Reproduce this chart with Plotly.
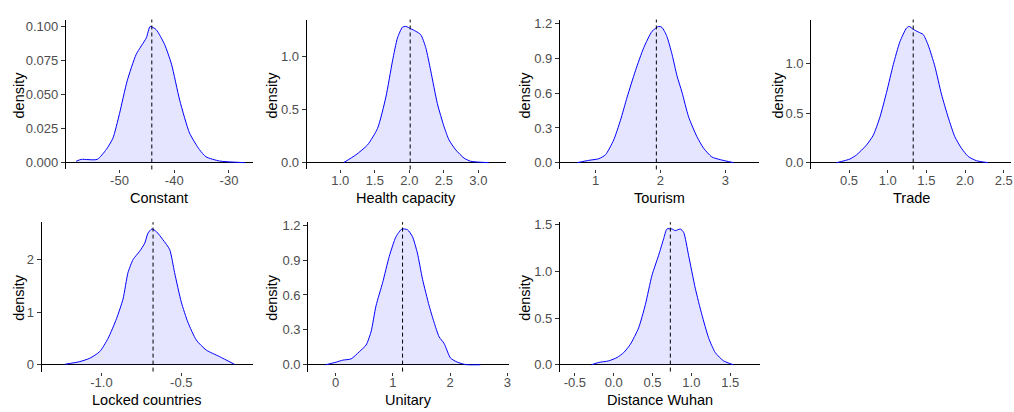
import plotly.graph_objects as go

# ---------------- data ----------------
labels = ["Constant", "Health capacity", "Tourism", "Trade",
          "Locked countries", "Unitary", "Distance Wuhan"]

constant_x = [-57.92, -57.0, -54.08, -52.43, -51.2, -50.0, -48.6, -46.95, -45.1, -44.4,
              -43.3, -41.77, -40.5, -39.0, -37.2, -35.4, -34.2, -31.7, -27.1]
constant_y = [0.001, 0.0024, 0.0024, 0.0096, 0.018, 0.036, 0.060, 0.0795, 0.0916, 0.100,
              0.0976, 0.0868, 0.0723, 0.0458, 0.0217, 0.0096, 0.0043, 0.0012, 0.0]

health_x = [1.048, 1.227, 1.395, 1.539, 1.66, 1.756, 1.828, 1.90, 1.949, 2.02, 2.094,
            2.166, 2.238, 2.31, 2.406, 2.503, 2.575, 2.672, 2.792, 2.889, 3.153]
health_y = [0.0, 0.074, 0.167, 0.321, 0.615, 0.954, 1.17, 1.27, 1.278, 1.256, 1.232,
            1.20, 1.078, 0.861, 0.553, 0.337, 0.213, 0.12, 0.043, 0.013, 0.0]

tourism_x = [0.717, 0.897, 1.05, 1.154, 1.28, 1.385, 1.487, 1.615, 1.743, 1.871, 1.974,
             2.025, 2.10, 2.18, 2.256, 2.333, 2.435, 2.563, 2.666, 2.794, 2.923, 3.128]
tourism_y = [0.0, 0.02, 0.034, 0.068, 0.196, 0.367, 0.566, 0.794, 0.993, 1.135, 1.178,
             1.169, 1.092, 0.936, 0.751, 0.609, 0.396, 0.225, 0.125, 0.049, 0.026, 0.0]

trade_x = [0.34, 0.513, 0.598, 0.727, 0.814, 0.90, 0.985, 1.072, 1.158, 1.243, 1.278,
           1.33, 1.394, 1.459, 1.523, 1.61, 1.695, 1.781, 1.868, 1.953, 2.04, 2.147, 2.297]
trade_y = [0.0, 0.037, 0.079, 0.179, 0.278, 0.461, 0.709, 0.99, 1.222, 1.36, 1.377,
           1.348, 1.321, 1.295, 1.189, 0.973, 0.692, 0.461, 0.262, 0.146, 0.063, 0.02, 0.0]

locked_x = [-1.229, -1.136, -1.073, -1.011, -0.959, -0.906, -0.865, -0.834, -0.802, -0.761,
            -0.729, -0.709, -0.684, -0.656, -0.615, -0.573, -0.542, -0.5, -0.459, -0.406,
            -0.344, -0.261, -0.167]
locked_y = [0.01, 0.06, 0.125, 0.25, 0.5, 0.875, 1.25, 1.75, 2.0, 2.157,
            2.31, 2.50, 2.58, 2.53, 2.375, 2.19, 1.75, 1.19, 0.81, 0.47,
            0.28, 0.156, 0.01]

unitary_x = [-0.174, 0.012, 0.127, 0.273, 0.417, 0.534, 0.62, 0.708, 0.823, 0.939, 1.056,
             1.16, 1.258, 1.345, 1.43, 1.52, 1.635, 1.72, 1.81, 1.896, 2.01, 2.127, 2.27, 2.53]
unitary_y = [0.0, 0.023, 0.04, 0.051, 0.113, 0.17, 0.282, 0.508, 0.706, 0.932, 1.10,
             1.167, 1.16, 1.10, 0.96, 0.735, 0.508, 0.367, 0.24, 0.184, 0.057, 0.023, 0.002, 0.0]

wuhan_x = [-0.287, -0.193, -0.064, 0.043, 0.129, 0.214, 0.321, 0.407, 0.493, 0.578, 0.643,
           0.685, 0.75, 0.793, 0.857, 0.90, 0.964, 1.05, 1.135, 1.221, 1.307, 1.414, 1.542]
wuhan_y = [0.0, 0.025, 0.042, 0.078, 0.131, 0.219, 0.396, 0.643, 0.96, 1.173, 1.35,
           1.455, 1.455, 1.437, 1.455, 1.42, 1.173, 0.82, 0.537, 0.29, 0.131, 0.042, 0.0]

estimates = [-44.1, 2.012, 1.938, 1.33, -0.677, 1.171, 0.729]

x_tickvals = [[-50, -40, -30], [1.0, 1.5, 2.0, 2.5, 3.0], [1, 2, 3],
              [0.5, 1.0, 1.5, 2.0, 2.5], [-1.0, -0.5], [0, 1, 2, 3],
              [-0.5, 0.0, 0.5, 1.0, 1.5]]
x_ticktext = [["-50", "-40", "-30"], ["1.0", "1.5", "2.0", "2.5", "3.0"], ["1", "2", "3"],
              ["0.5", "1.0", "1.5", "2.0", "2.5"], ["-1.0", "-0.5"], ["0", "1", "2", "3"],
              ["-0.5", "0.0", "0.5", "1.0", "1.5"]]
y_tickvals = [[0, 0.025, 0.05, 0.075, 0.1], [0, 0.5, 1.0], [0, 0.3, 0.6, 0.9, 1.2],
              [0, 0.5, 1.0], [0, 1, 2], [0, 0.3, 0.6, 0.9, 1.2], [0, 0.5, 1.0, 1.5]]
y_ticktext = [["0.000", "0.025", "0.050", "0.075", "0.100"], ["0.0", "0.5", "1.0"],
              ["0.0", "0.3", "0.6", "0.9", "1.2"], ["0.0", "0.5", "1.0"], ["0", "1", "2"],
              ["0.0", "0.3", "0.6", "0.9", "1.2"], ["0.0", "0.5", "1.0", "1.5"]]

series_x = [constant_x, health_x, tourism_x, trade_x, locked_x, unitary_x, wuhan_x]
series_y = [constant_y, health_y, tourism_y, trade_y, locked_y, unitary_y, wuhan_y]

# ---------------- layout (pixel geometry) ----------------
W, H = 1014, 412
panel_px = [  # left, right, top, bottom in pixels
    (66, 253, 14.8, 166.9), (307.3, 507, 14.8, 166.9), (561, 761, 14.8, 166.9),
    (812.7, 1013, 14.8, 166.9),
    (41.7, 253, 220.4, 372), (308.7, 510, 220.4, 372), (561, 761.7, 220.4, 372)]
x_ranges = [(-59.8, -25.7), (0.513, 3.40), (0.451, 3.528), (0.01, 2.594),
            (-1.375, -0.054), (-0.479, 3.03), (-0.693, 1.886)]
ytitle_x = [19, 272.5, 526, 779.5, 19, 272.5, 526]
xtitle_y = [195.5, 401]

FONT = "Liberation Sans, Arial, sans-serif"
fig = go.Figure()
layout = dict(width=W, height=H, margin=dict(l=0, r=0, t=0, b=0),
              paper_bgcolor="white", plot_bgcolor="white", showlegend=False,
              font=dict(family=FONT, color="black"))
shapes, annotations = [], []

for i in range(7):
    n = "" if i == 0 else str(i + 1)
    l, r, t, b = panel_px[i]
    ymax = max(series_y[i])
    fig.add_trace(go.Scatter(x=series_x[i], y=series_y[i], mode="lines",
                             line=dict(color="blue", width=1, shape="spline", smoothing=0.6),
                             fill="tozeroy", fillcolor="rgba(0,0,255,0.1)",
                             xaxis="x" + n, yaxis="y" + n, hoverinfo="skip"))
    layout["xaxis" + n] = dict(domain=[l / W, r / W], range=list(x_ranges[i]),
                               anchor="y" + n, showline=False, zeroline=False, showgrid=False,
                               ticks="outside", ticklen=3, tickwidth=1, tickcolor="#333333",
                               ticklabelstandoff=-4,
                               tickvals=x_tickvals[i], ticktext=x_ticktext[i],
                               tickfont=dict(family=FONT, size=13, color="#4D4D4D"))
    layout["yaxis" + n] = dict(domain=[1 - b / H, 1 - t / H],
                               range=[-0.05 * ymax, 1.05 * ymax],
                               anchor="x" + n, showline=True, linecolor="black", linewidth=1,
                               zeroline=True, zerolinecolor="black", zerolinewidth=1,
                               showgrid=False, ticks="outside", ticklen=4, tickwidth=1,
                               tickcolor="#333333",
                               tickvals=y_tickvals[i], ticktext=y_ticktext[i],
                               tickfont=dict(family=FONT, size=13, color="#4D4D4D"))
    shapes.append(dict(type="line", xref="x" + n, yref="y" + n + " domain",
                       x0=estimates[i], x1=estimates[i], y0=0, y1=1,
                       line=dict(color="black", width=1, dash="4px,3px")))
    row = 0 if i < 4 else 1
    annotations.append(dict(text=labels[i], xref="paper", yref="paper",
                            x=(l + r) / 2 / W, y=1 - xtitle_y[row] / H,
                            xanchor="center", yanchor="middle", showarrow=False,
                            font=dict(family=FONT, size=14.5, color="black")))
    annotations.append(dict(text="density", xref="paper", yref="paper",
                            x=ytitle_x[i] / W, y=1 - (t + b) / 2 / H, textangle=-90,
                            xanchor="center", yanchor="middle", showarrow=False,
                            font=dict(family=FONT, size=14.5, color="black")))

layout["shapes"] = shapes
layout["annotations"] = annotations
fig.update_layout(**layout)
fig.write_html("out.html")
